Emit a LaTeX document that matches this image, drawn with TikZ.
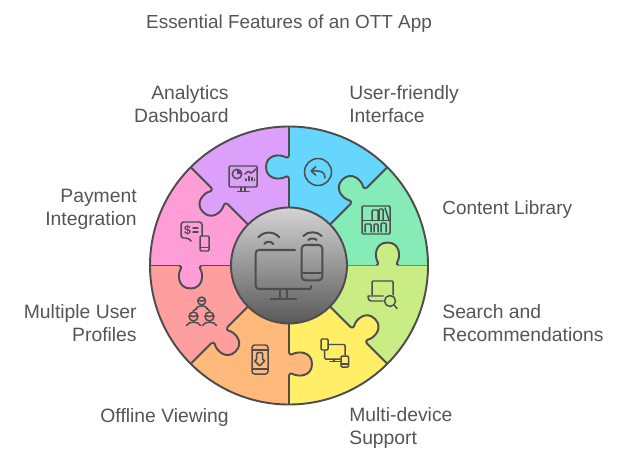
\documentclass[tikz,border=0pt]{standalone}
\usepackage{fontspec}
\setmainfont{Liberation Sans}
\definecolor{inkcol}{HTML}{4D4D4D}
\definecolor{textcol}{HTML}{555555}
\definecolor{greencol}{HTML}{85EBB7}
\definecolor{bluecol}{HTML}{66D6FF}
\definecolor{purplecol}{HTML}{DDA0FA}
\definecolor{pinkcol}{HTML}{FF9ED6}
\definecolor{redcol}{HTML}{FF9E9E}
\definecolor{orangecol}{HTML}{FFB97A}
\definecolor{yellowcol}{HTML}{FFEE66}
\definecolor{limecol}{HTML}{C9EC85}
\tikzset{
  label/.style={font=\fontsize{11}{13.1}\selectfont, text=textcol, inner sep=0pt},
  labelr/.style={label, anchor=east, align=right},
  labell/.style={label, anchor=west, align=left},
  icon/.style={draw=inkcol, line width=0.85pt, line cap=round, line join=round, rounded corners=0.6pt},
  bigicon/.style={draw=inkcol, line width=1.15pt, line cap=round, line join=round},
}
\begin{document}
\begin{tikzpicture}[x=0.02cm, y=-0.02cm, declare function={ro=139;ri=58;}]
\useasboundingbox (0,0) rectangle (624,462);
\node[label, font=\fontsize{10.75}{13.1}\selectfont] (title) at (289,23.5) {Essential Features of an OTT App};
% wedges and knobs
\foreach \a/\wcol/\kcol in {0/greencol/limecol, 45/bluecol/greencol, 90/purplecol/bluecol, 135/pinkcol/purplecol, 180/redcol/pinkcol, 225/orangecol/redcol, 270/yellowcol/orangecol, 315/limecol/yellowcol}{
  \begin{scope}[shift={(289,265.5)}, x=0.02cm, y=0.02cm, rotate=\a]
    \fill[\wcol] (0,0)--(ro,0) arc (0:45:ro)--cycle;
    \draw[fill=\kcol, draw=inkcol, line width=1.1pt] (87.5,0) .. controls (88.5,0.7) and (89.5,1.5) .. (89,3) .. controls (85,9) and (86,23) .. (98.5,23) .. controls (111,23) and (112,9) .. (108,3) .. controls (107.5,1.5) and (108.5,0.7) .. (109.5,0);
    \draw[inkcol, line width=1.1pt] (ri,0)--(87.5,0) (109.5,0)--(ro,0);
  \end{scope}
}
\draw[inkcol, line width=1.1pt] (289,265.5) circle (ro);
\shade[top color=black!17, bottom color=black!65] (289,265.5) circle (ri);
\draw[inkcol, line width=1.1pt] (289,265.5) circle (ri);
% centre
\draw[bigicon, rounded corners=1.8pt] (295,250)--(255.7,250)--(255.7,289)--(310,289);
\draw[bigicon] (310,289) .. controls (311,288.5) and (311,287.5) .. (311,286);
\draw[bigicon] (280,289)--(280,298.7) (287.3,289)--(287.3,298.7) (270.7,298.7)--(296,298.7);
\draw[bigicon, rounded corners=2pt] (301.7,245) rectangle (322.3,280.3);
\draw[bigicon] (301.7,273)--(322.3,273);
\draw[bigicon] (258.3,237.3) .. controls (264,231) and (274,231) .. (279.3,237.3);
\draw[bigicon] (264.3,244) .. controls (266,241) and (271,241) .. (273.3,244);
\draw[bigicon] (303.3,236) .. controls (308,231) and (317,231) .. (321.7,236);
\draw[bigicon] (308.3,240) .. controls (310,238) and (315,238) .. (316.7,240);
% analytics
\draw[icon] (229,166) rectangle (257,187);
\draw[icon] (241,187)--(241,191.5) (245,187)--(245,191.5) (237.5,191.5)--(249,191.5);
\draw[icon] (237,174) circle (4.7);
\fill[inkcol] (237,174)--(237,169.3) arc[start angle=-90, end angle=0, radius=4.7]--cycle;
\draw[icon] (245,174)--(248.5,171)--(251,173.5)--(256,169);
\draw[icon, line width=1.1pt] (246,180.5)--(246,179) (249,180.5)--(249,176.5) (252,180.5)--(252,177.5) (254.5,180.5)--(254.5,179);
% interface
\draw[icon] (318,172) circle (13.5);
\draw[icon] (325,178) .. controls (325,172) and (322,170.5) .. (311,171);
\draw[icon] (315.7,166.7)--(311,171)--(315.7,175);
% library
\draw[icon] (362,206) rectangle (390,234);
\draw[icon] (362,220.3)--(390,220.3);
\draw[icon] (372,220.3)--(372,210)--(378,210)--(378,220.3) (379,220.3)--(379,209)--(383,209)--(383,220.3) (389,220)--(385,208);
\draw[icon] (365,232)--(365,224)--(371,224)--(371,232) (374,232)--(374,224)--(378,224)--(378,232) (381,232)--(381,223)--(386,223)--(386,232);
% search
\draw[icon] (372,295)--(372,281)--(393,281)--(393,295);
\draw[icon] (368,296)--(383,296) (368,296) .. controls (368,300) and (370,301) .. (372,301)--(383,301);
\draw[icon] (390,301) circle (5.5);
\draw[icon] (394,305)--(397,308.5);
% multi-device
\draw[icon] (321,339) rectangle (328,350);
\draw[icon] (328,344.5)--(345,344.5)--(345,355);
\draw[icon] (324.5,350)--(324.5,359)--(340,359);
\draw[icon] (330,361.5)--(340,361.5) (334,359)--(334,361.5);
\draw[icon] (341,356) rectangle (348.5,367);
\draw[icon] (341,364)--(348.5,364);
% offline
\draw[icon, rounded corners=1.5pt] (252,345) rectangle (268,374);
\draw[icon] (252,350)--(268,350) (252,369)--(268,369);
\draw[icon] (256.7,352.7)--(262.7,352.7)--(262.7,360.3)--(265.3,360.3)--(259.7,366)--(254,360.3)--(256.7,360.3)--cycle;
% profiles
\draw[icon] (201.7,301) circle (3.9);
\draw[icon] (198,300) .. controls (200,301.5) and (203,301.5) .. (205.5,300);
\draw[icon] (196,308.5) .. controls (198,305) and (205,305) .. (207.5,308.5);
\draw[icon] (197,308.5)--(193,311) (206.5,308.5)--(210,311);
\foreach \px in {193.5,209.5}{
  \draw[icon] (\px,316.5) circle (4.5);
  \draw[icon] (\px-4,315.5) .. controls (\px-1.5,317) and (\px+1.5,317) .. (\px+4,315.5);
  \draw[icon] (\px-7,325.5) .. controls (\px-5,321) and (\px+5,321) .. (\px+7,325.5);
}
% payment
\draw[icon, rounded corners=1.5pt] (191,241)--(188,238)--(181,238)--(181,222)--(202,222)--(202,236);
\node[font=\fontsize{7}{7}\selectfont\bfseries, text=inkcol, inner sep=0pt] (dollar) at (187.5,230) {\$};
\draw[icon] (193,228)--(198,228) (193,232)--(198,232);
\draw[icon] (200,236) rectangle (209,251);
\draw[icon] (200,247.5)--(209,247.5);
% labels
\node[labelr] (analytics) at (229,104.5) {Analytics\\Dashboard};
\node[labell] (interface) at (349,104.5) {User-friendly\\Interface};
\node[labell, font=\fontsize{10.8}{13.1}\selectfont] (library) at (442,210) {Content Library};
\node[labell] (search) at (442,323.5) {Search and\\Recommendations};
\node[labell] (device) at (349,428) {Multi-device\\Support};
\node[labelr] (offline) at (229,417) {Offline Viewing};
\node[labelr] (profiles) at (137,323.5) {Multiple User\\Profiles};
\node[labelr] (payment) at (137,209.5) {Payment\\Integration};
\end{tikzpicture}
\end{document}
